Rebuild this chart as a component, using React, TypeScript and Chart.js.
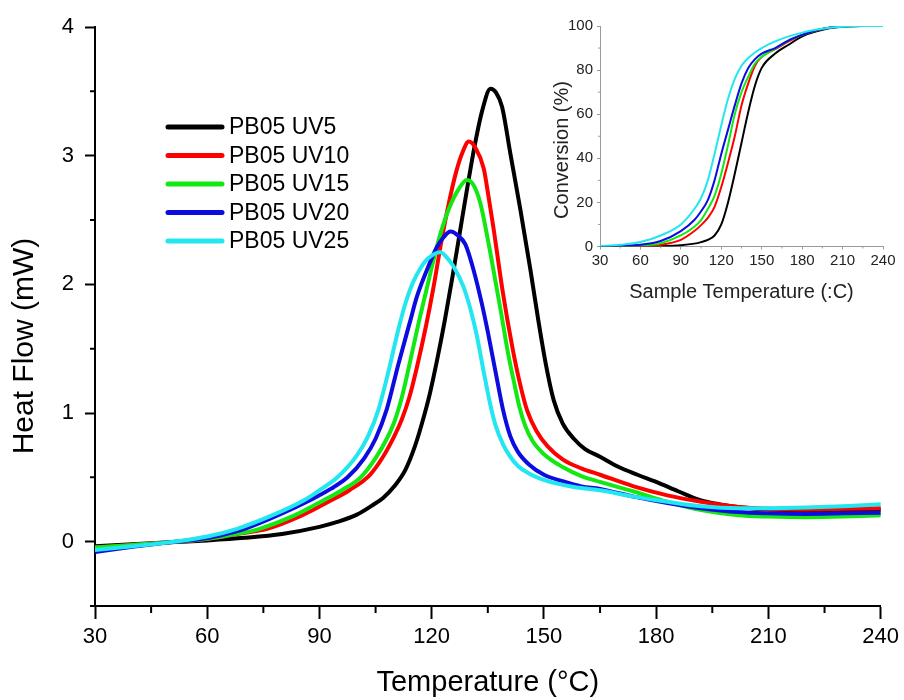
import React, { useEffect, useRef } from 'react';
import { Chart, registerables } from 'chart.js';
Chart.register(...registerables);

const FONT = '"Liberation Sans", Arial, Helvetica, sans-serif';

const seriesLabels = ['PB05 UV5', 'PB05 UV10', 'PB05 UV15', 'PB05 UV20', 'PB05 UV25'];
const seriesColors = ['#000000', '#ff0000', '#12e812', '#0c0ce0', '#22e6f0'];

// ---- main DSC curves (Temperature °C, Heat Flow mW)
const tempUV5 = [30, 40, 50, 60, 70, 80, 90, 95, 100, 104, 107, 110, 113, 115.5, 117.5, 119.5, 121.5, 123.5, 125.5, 127.5, 129.5, 131.5, 133.5, 135.7, 137.2, 138.8, 141, 143.7, 146.4, 148.5, 150.5, 152.6, 155, 158, 161, 165, 170, 175, 180, 186, 192, 197, 203, 210, 220, 230, 240];
const heatUV5 = [-0.035, -0.02, -0.005, 0.01, 0.03, 0.06, 0.115, 0.155, 0.21, 0.28, 0.34, 0.43, 0.56, 0.74, 0.93, 1.15, 1.42, 1.72, 2.05, 2.4, 2.75, 3.08, 3.35, 3.52, 3.49, 3.38, 3.02, 2.58, 2.11, 1.72, 1.38, 1.1, 0.92, 0.8, 0.72, 0.66, 0.58, 0.52, 0.465, 0.39, 0.32, 0.29, 0.265, 0.25, 0.245, 0.245, 0.25];

const tempUV10 = [30, 40, 50, 60, 68, 76, 85, 93, 98, 103.5, 107, 110, 112, 114, 116, 118.5, 120.5, 122.5, 124.5, 126.5, 128.3, 129.9, 131.7, 133.9, 135.2, 136.5, 139, 141.5, 143.5, 145.5, 148, 151, 155, 160, 165, 174, 183, 192, 202, 210, 220, 230, 240];
const heatUV10 = [-0.045, -0.025, -0.005, 0.02, 0.06, 0.1, 0.2, 0.32, 0.4, 0.52, 0.66, 0.82, 0.95, 1.12, 1.35, 1.68, 1.98, 2.32, 2.62, 2.87, 3.03, 3.11, 3.06, 2.9, 2.68, 2.44, 1.94, 1.52, 1.24, 1.02, 0.86, 0.74, 0.64, 0.57, 0.52, 0.43, 0.36, 0.31, 0.27, 0.255, 0.25, 0.255, 0.26];

const tempUV15 = [30, 40, 50, 60, 67, 74, 83, 91, 96, 101, 105, 108, 110, 112, 114, 116.5, 118.7, 120.5, 122.3, 124.5, 127, 129.4, 131.2, 133, 135.7, 138.3, 140.5, 142, 143.5, 145, 147, 150, 155, 160, 165, 174, 183, 192, 202, 210, 220, 230, 240];
const heatUV15 = [-0.045, -0.025, -0.005, 0.022, 0.055, 0.1, 0.2, 0.32, 0.4, 0.5, 0.65, 0.8, 0.93, 1.12, 1.37, 1.7, 1.97, 2.19, 2.39, 2.58, 2.73, 2.81, 2.77, 2.63, 2.24, 1.82, 1.45, 1.24, 1.04, 0.9, 0.78, 0.68, 0.58, 0.51, 0.465, 0.39, 0.31, 0.245, 0.205, 0.195, 0.19, 0.195, 0.205];

const tempUV20 = [30, 40, 50, 60, 65, 70, 78.5, 88, 93, 97.5, 102, 105, 108, 111, 114.3, 116, 118.7, 121.4, 123.3, 125, 127, 129, 131.2, 133.4, 135, 137, 139.1, 141, 143, 146, 150, 155, 160, 165, 174, 183, 192, 202, 210, 220, 230, 240];
const heatUV20 = [-0.08, -0.04, -0.005, 0.028, 0.06, 0.1, 0.2, 0.33, 0.41, 0.5, 0.65, 0.8, 1.03, 1.37, 1.72, 1.9, 2.11, 2.29, 2.37, 2.41, 2.38, 2.31, 2.11, 1.85, 1.63, 1.33, 1.02, 0.82, 0.7, 0.6, 0.52, 0.47, 0.43, 0.41, 0.35, 0.3, 0.26, 0.23, 0.22, 0.215, 0.22, 0.225];

const tempUV25 = [30, 40, 50, 60, 68, 77, 86, 90, 94.8, 100, 103, 105.7, 108.5, 111, 113, 115, 117, 119, 122.3, 124, 125.8, 128.5, 130.7, 132, 134, 135.7, 137, 139, 141, 143, 146, 149, 153, 158, 165, 174, 183, 192, 202, 210, 220, 230, 240];
const heatUV25 = [-0.065, -0.035, -0.005, 0.04, 0.1, 0.2, 0.324, 0.4, 0.5, 0.67, 0.82, 1.02, 1.33, 1.64, 1.855, 2.015, 2.125, 2.2, 2.25, 2.21, 2.14, 1.98, 1.77, 1.61, 1.305, 1.06, 0.91, 0.76, 0.66, 0.59, 0.53, 0.49, 0.455, 0.425, 0.4, 0.35, 0.31, 0.275, 0.26, 0.26, 0.265, 0.275, 0.29];

const xTicksMain = [30, 60, 90, 120, 150, 180, 210, 240];
const xMinorMain = [45, 75, 105, 135, 165, 195, 225];
const yTicksMain = [0, 1, 2, 3, 4];
const yMinorMain = [-0.5, 0.5, 1.5, 2.5, 3.5];

// ---- inset conversion curves (Sample Temperature, Conversion %)
const convTemp = [30, 45, 60, 75, 90, 100, 105, 110, 115, 120, 125, 130, 135, 140, 145, 150, 160, 170, 180, 190, 200, 210, 225, 240];
const convUV5 = [0, 0, 0.05, 0.2, 0.6, 1.3, 2, 3, 5, 10, 20, 33, 47, 61, 73, 81, 87.5, 91.5, 95.3, 97.5, 99, 99.7, 100, 100];
const convUV10 = [0, 0.05, 0.2, 0.8, 3, 7, 9.7, 13, 18, 27, 38, 50, 64, 74, 82, 86, 89.5, 93, 96, 98, 99.2, 99.8, 100, 100];
const convUV15 = [0, 0.1, 0.4, 1.5, 5, 9, 12, 17, 23, 33, 46, 60, 70, 77, 83, 86, 89.7, 93.5, 96, 98, 99.2, 99.8, 100, 100];
const convUV20 = [0.1, 0.3, 0.8, 2.5, 7, 12, 16, 21, 30, 42, 53, 64, 74, 81, 85, 87.5, 90, 93.5, 96, 98, 99.2, 99.8, 100, null];
const convUV25 = [0.2, 0.8, 2, 5, 10, 17, 22, 30, 42, 55, 67, 76, 82, 85.5, 88, 90, 93, 95.3, 97, 98.3, 99.2, 99.7, 100, 100];

const xTicksInset = [30, 60, 90, 120, 150, 180, 210, 240];
const xMinorInset = [45, 75, 105, 135, 165, 195, 225];
const yTicksInset = [0, 20, 40, 60, 80, 100];
const yMinorInset = [10, 30, 50, 70, 90];

const mainTemps = [tempUV5, tempUV10, tempUV15, tempUV20, tempUV25];
const mainHeats = [heatUV5, heatUV10, heatUV15, heatUV20, heatUV25];
const convSeries = [convUV5, convUV10, convUV15, convUV20, convUV25];

const minorTicksPlugin = {
  id: 'minorTicks',
  afterDraw(chart: any, _args: any, opts: any) {
    const ctx = chart.ctx;
    ['x', 'y'].forEach((id) => {
      const conf = opts && opts[id];
      if (!conf) return;
      const scale = chart.scales[id];
      ctx.save();
      ctx.strokeStyle = conf.color;
      ctx.lineWidth = conf.width;
      ctx.beginPath();
      conf.values.forEach((v: number) => {
        const p = scale.getPixelForValue(v);
        if (id === 'x') {
          ctx.moveTo(p, scale.top);
          ctx.lineTo(p, scale.top + conf.length);
        } else {
          ctx.moveTo(scale.right, p);
          ctx.lineTo(scale.right - conf.length, p);
        }
      });
      ctx.stroke();
      ctx.restore();
    });
  },
};

const sideTitlePlugin = {
  id: 'sideTitle',
  afterDraw(chart: any, _args: any, opts: any) {
    if (!opts || !opts.text) return;
    const ctx = chart.ctx;
    ctx.save();
    ctx.translate(opts.x, opts.y);
    ctx.rotate(-Math.PI / 2);
    ctx.font = `${opts.size}px ${FONT}`;
    ctx.fillStyle = opts.color;
    ctx.textAlign = 'center';
    ctx.textBaseline = 'middle';
    ctx.fillText(opts.text, 0, 0);
    ctx.restore();
  },
};

const lineLegendPlugin = {
  id: 'lineLegend',
  afterDraw(chart: any, _args: any, opts: any) {
    if (!opts || !opts.show) return;
    const ctx = chart.ctx;
    ctx.save();
    ctx.font = `${opts.size}px ${FONT}`;
    ctx.textBaseline = 'middle';
    ctx.textAlign = 'left';
    chart.data.datasets.forEach((ds: any, i: number) => {
      const y = opts.y + i * opts.dy;
      ctx.strokeStyle = ds.borderColor;
      ctx.lineWidth = opts.lineWidth;
      ctx.lineCap = 'round';
      ctx.beginPath();
      ctx.moveTo(opts.x, y);
      ctx.lineTo(opts.x + opts.lineLen, y);
      ctx.stroke();
      ctx.fillStyle = '#000';
      ctx.fillText(ds.label, opts.x + opts.lineLen + opts.gap, y + 1);
    });
    ctx.restore();
  },
};

function MainChart() {
  const ref = useRef<HTMLCanvasElement>(null);
  useEffect(() => {
    const order = [4, 3, 2, 1, 0];
    const chart = new Chart(ref.current as HTMLCanvasElement, {
      type: 'line',
      data: {
        datasets: seriesLabels.map((label, i) => ({
          label,
          data: mainTemps[i].map((t, j) => ({ x: t, y: mainHeats[i][j] })),
          borderColor: seriesColors[i],
          backgroundColor: seriesColors[i],
          borderWidth: 4,
          pointRadius: 0,
          cubicInterpolationMode: 'monotone' as const,
          fill: false,
          order: order[i],
          borderCapStyle: 'round' as const,
          borderJoinStyle: 'round' as const,
        })),
      },
      options: {
        responsive: false,
        animation: false,
        events: [],
        layout: { padding: { top: 27, right: 22, left: 0, bottom: 0 } },
        scales: {
          x: {
            type: 'linear',
            min: 30,
            max: 240,
            afterFit: (s: any) => { s.height = 94; },
            afterBuildTicks: (s: any) => { s.ticks = xTicksMain.map((v) => ({ value: v })); },
            ticks: { font: { family: FONT, size: 22 }, color: '#000', padding: 5, maxRotation: 0, autoSkip: false },
            grid: { drawOnChartArea: false, drawTicks: true, tickLength: 13, tickWidth: 2, tickColor: '#000' },
            border: { display: true, color: '#000', width: 2 },
            title: { display: true, text: 'Temperature (°C)', font: { family: FONT, size: 29 }, color: '#000', padding: { top: 0, bottom: 0 } },
          },
          y: {
            type: 'linear',
            min: -0.5,
            max: 4,
            afterFit: (s: any) => { s.width = 95; },
            afterBuildTicks: (s: any) => { s.ticks = yTicksMain.map((v) => ({ value: v })); },
            ticks: { font: { family: FONT, size: 22 }, color: '#000', padding: 11, autoSkip: false },
            grid: { drawOnChartArea: false, drawTicks: true, tickLength: 10, tickWidth: 2, tickColor: '#000' },
            border: { display: true, color: '#000', width: 2 },
          },
        },
        plugins: {
          legend: { display: false },
          tooltip: { enabled: false },
          minorTicks: {
            x: { values: xMinorMain, length: 7, color: '#000', width: 2 },
            y: { values: yMinorMain, length: 5, color: '#000', width: 2 },
          },
          sideTitle: { text: 'Heat Flow (mW)', x: 25, y: 346, size: 30, color: '#000' },
          lineLegend: { show: true, x: 168, y: 127, dy: 28.5, lineLen: 54, gap: 7, size: 23, lineWidth: 5 },
        } as any,
      },
      plugins: [minorTicksPlugin, sideTitlePlugin, lineLegendPlugin],
    } as any);
    return () => chart.destroy();
  }, []);
  return <canvas ref={ref} width={904} height={700} style={{ display: 'block', width: 904, height: 700 }} />;
}

function InsetChart() {
  const ref = useRef<HTMLCanvasElement>(null);
  useEffect(() => {
    const order = [4, 3, 2, 1, 0];
    const axisGray = '#9a9a9a';
    const chart = new Chart(ref.current as HTMLCanvasElement, {
      type: 'line',
      data: {
        datasets: seriesLabels.map((label, i) => ({
          label,
          data: convTemp.map((t, j) => ({ x: t, y: convSeries[i][j] })),
          borderColor: seriesColors[i],
          backgroundColor: seriesColors[i],
          borderWidth: 2,
          pointRadius: 0,
          cubicInterpolationMode: 'monotone' as const,
          fill: false,
          spanGaps: false,
          order: order[i],
        })),
      },
      options: {
        responsive: false,
        animation: false,
        events: [],
        layout: { padding: { top: 26, right: 21, left: 0, bottom: 0 } },
        scales: {
          x: {
            type: 'linear',
            min: 30,
            max: 240,
            afterFit: (s: any) => { s.height = 63.5; },
            afterBuildTicks: (s: any) => { s.ticks = xTicksInset.map((v) => ({ value: v })); },
            ticks: { font: { family: FONT, size: 15 }, color: '#222', padding: 2, maxRotation: 0, autoSkip: false },
            grid: { drawOnChartArea: false, drawTicks: true, tickLength: 3, tickWidth: 1, tickColor: axisGray },
            border: { display: true, color: axisGray, width: 1 },
            title: { display: true, text: 'Sample Temperature (:C)', font: { family: FONT, size: 20 }, color: '#222', padding: { top: 0, bottom: 6 } },
          },
          y: {
            type: 'linear',
            min: 0,
            max: 100,
            afterFit: (s: any) => { s.width = 70; },
            afterBuildTicks: (s: any) => { s.ticks = yTicksInset.map((v) => ({ value: v })); },
            ticks: { font: { family: FONT, size: 15 }, color: '#222', padding: 4, autoSkip: false },
            grid: { drawOnChartArea: false, drawTicks: true, tickLength: 3, tickWidth: 1, tickColor: axisGray },
            border: { display: true, color: axisGray, width: 1 },
          },
        },
        plugins: {
          legend: { display: false },
          tooltip: { enabled: false },
          minorTicks: {
            x: { values: xMinorInset, length: 2, color: axisGray, width: 1 },
            y: { values: yMinorInset, length: 2, color: axisGray, width: 1 },
          },
          sideTitle: { text: 'Conversion (%)', x: 32, y: 150, size: 20, color: '#222' },
        } as any,
      },
      plugins: [minorTicksPlugin, sideTitlePlugin],
    } as any);
    return () => chart.destroy();
  }, []);
  return <canvas ref={ref} width={374} height={310} style={{ display: 'block', width: 374, height: 310 }} />;
}

export default function App() {
  return (
    <div style={{ position: 'absolute', left: 0, top: 0, width: 904, height: 700, background: '#fff', overflow: 'hidden' }}>
      <MainChart />
      <div style={{ position: 'absolute', left: 530, top: 0, width: 374, height: 310 }}>
        <InsetChart />
      </div>
    </div>
  );
}
